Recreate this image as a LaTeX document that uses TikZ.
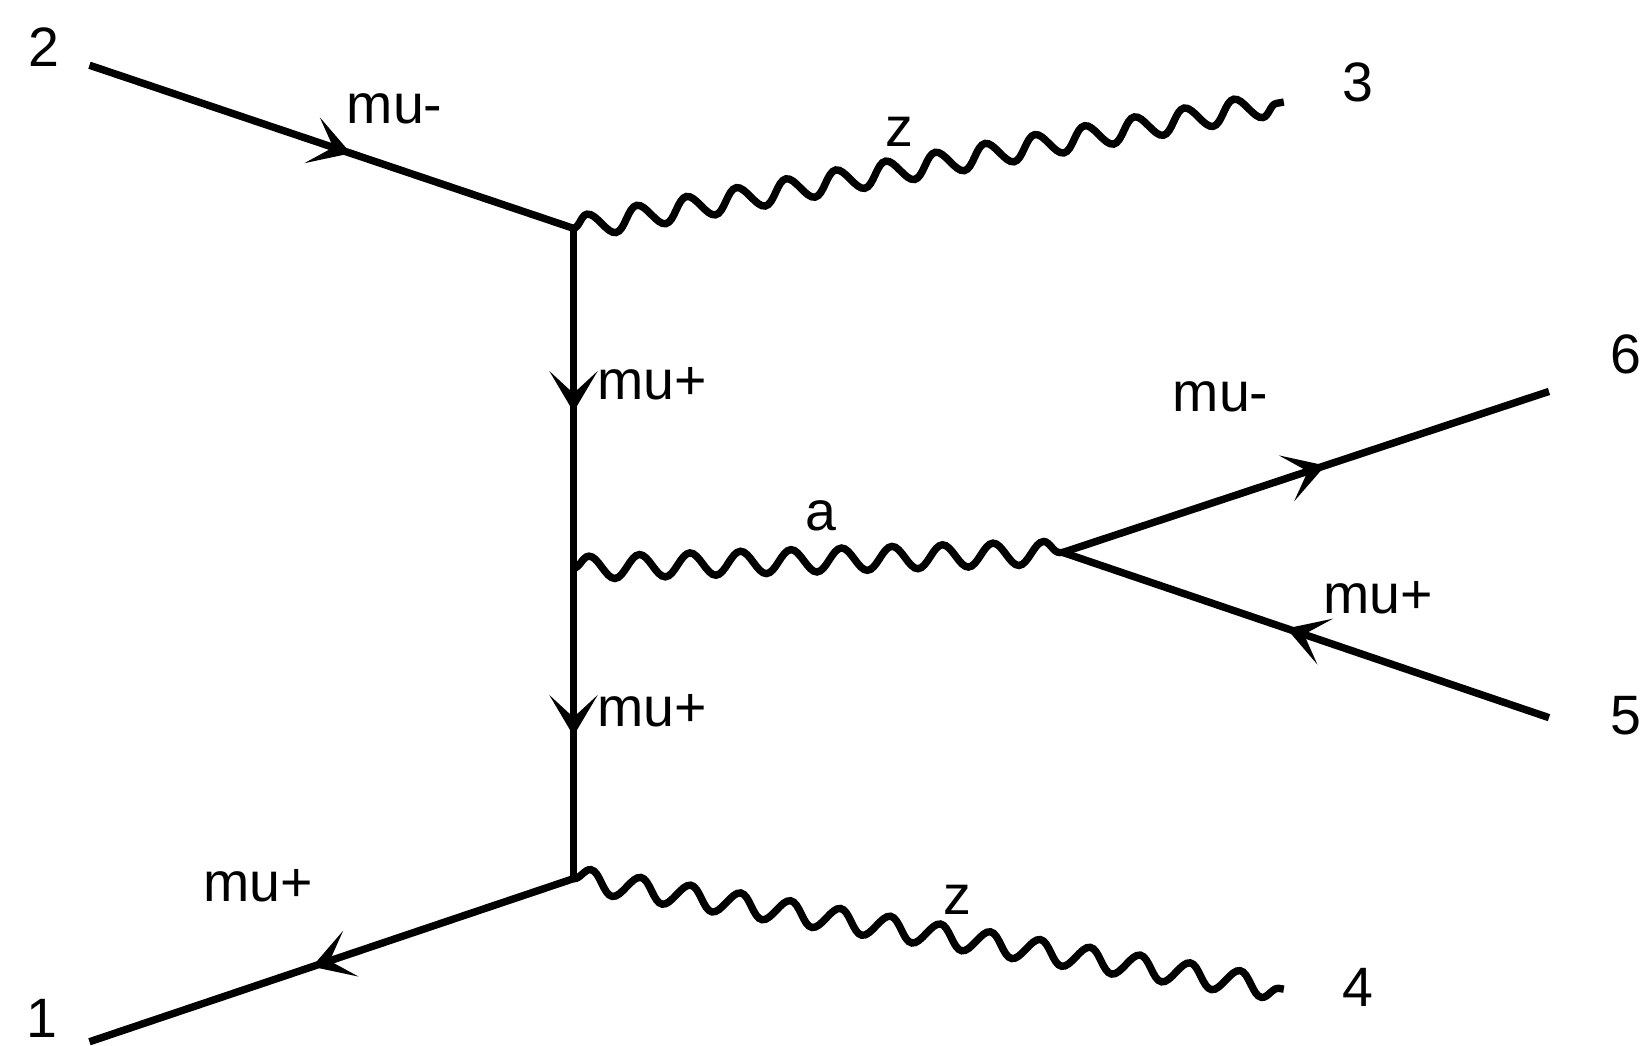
\documentclass[tikz,border=0pt]{standalone}
\usepackage{fontspec}
\setmainfont{Liberation Sans}
\usetikzlibrary{arrows.meta,decorations.pathmorphing,decorations.markings}

\begin{document}
\begin{tikzpicture}[x=0.01cm, y=-0.01cm, line width=2pt,
  every node/.style={font=\fontsize{15}{18}\selectfont},
  fermion/.style={postaction={decorate}, decoration={markings,
    mark=at position 0.54 with {\arrow{Stealth[length=11pt, width=13pt, inset=6pt]}}}},
  boson/.style={decorate, decoration={snake, segment length=0.48cm, amplitude=0.11cm}}]
\useasboundingbox (0,0) rectangle (1568,994);
% vertices
\coordinate (v1) at (545,217);
\coordinate (v2) at (545,540);
\coordinate (v3) at (545,835);
\coordinate (v4) at (1010,525);
% external legs
\coordinate (p1) at (85,990);
\coordinate (p2) at (85,62);
\coordinate (p3) at (1220,97);
\coordinate (p4) at (1220,940);
\coordinate (p5) at (1472,682);
\coordinate (p6) at (1472,372);
\node (n1) at (40,968) {1};
\node (n2) at (42,45) {2};
\node (n3) at (1290,78) {3};
\node (n4) at (1290,938) {4};
\node (n5) at (1545,680) {5};
\node (n6) at (1545,337) {6};
% propagators
\draw[fermion] (p2) -- (v1);
\draw[fermion] (v1) -- (v2);
\draw[fermion] (v2) -- (v3);
\draw[fermion] (v3) -- (p1);
\draw[fermion] (v4) -- (p6);
\draw[fermion] (p5) -- (v4);
\draw[boson] (v1) -- (p3);
\draw[boson] (v2) -- (v4);
\draw[boson] (v3) -- (p4);
% particle labels
\node (l2) at (375,103) {mu-};
\node (l3) at (855,125) {z};
\node (l12) at (620,365) {mu+};
\node (l23) at (620,675) {mu+};
\node (l1) at (245,842) {mu+};
\node (l4) at (910,855) {z};
\node (la) at (780,490) {a};
\node (l6) at (1160,377) {mu-};
\node (l5) at (1310,568) {mu+};
\end{tikzpicture}
\end{document}
